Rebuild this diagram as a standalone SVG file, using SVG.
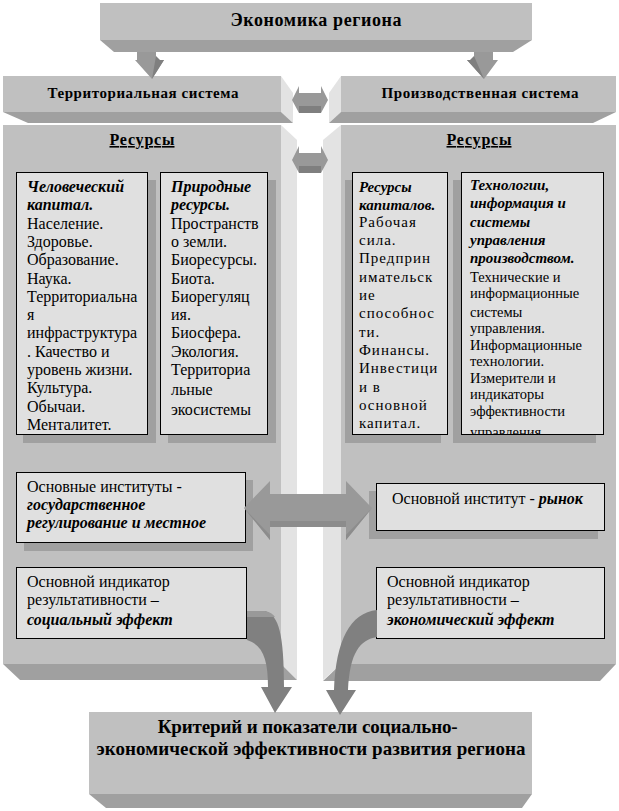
<svg xmlns="http://www.w3.org/2000/svg" width="619" height="811" viewBox="0 0 619 811">
<defs>
<style>
.front{fill:#c0c0c0}
.bevel{fill:#a0a0a0}
.side{fill:#e3e3e3}
.box{fill:#e0e0e0;stroke:#000;stroke-width:1}
.shadow{fill:#a0a0a0}
.arrow{fill:#999999}
.arrowdk{fill:#7f7f7f}
.curve{fill:#808080}
text{font-family:"Liberation Serif","Times New Roman",serif;fill:#000}
.h{font-weight:bold}
.bi{font-weight:bold;font-style:italic}
.t16{font-size:16px}
.t15{font-size:15px}
.sp{letter-spacing:1px}
</style>
<clipPath id="clip4"><rect x="461" y="172" width="143" height="262"/></clipPath>
</defs>
<rect x="0" y="0" width="619" height="811" fill="#ffffff"/>

<g id="top-box">
<polygon class="bevel" points="100,40 532,40 513,52 114,52"/>
<rect class="front" x="100" y="3" width="432" height="37"/>
<text class="h" x="316" y="26" font-size="18" text-anchor="middle" textLength="171">Экономика региона</text>
</g>

<g id="territorial-system">
<polygon class="side" points="281,76 293,93 293,123 281,112"/>
<polygon class="bevel" points="3,112 281,112 293,123 28,123"/>
<rect class="front" x="3" y="76" width="278" height="36"/>
<text class="h" x="143" y="98" font-size="15" text-anchor="middle" textLength="191">Территориальная система</text>
</g>

<g id="production-system">
<polygon class="side" points="341,76 329,93 329,123 341,112"/>
<polygon class="bevel" points="341,112 616,112 593,123 329,123"/>
<rect class="front" x="341" y="76" width="275" height="36"/>
<text class="h" x="480" y="98" font-size="15" text-anchor="middle" textLength="197">Производственная система</text>
</g>

<g id="left-panel">
<polygon class="side" points="281,125 297,140 297,680 281,664"/>
<polygon class="bevel" points="3,664 281,664 297,680 20,680"/>
<rect class="front" x="3" y="125" width="278" height="539"/>
<text class="h" x="142" y="145" font-size="16" text-anchor="middle" text-decoration="underline" textLength="65">Ресурсы</text>
</g>

<g id="right-panel">
<polygon class="side" points="341,125 323,140 323,680 341,664"/>
<polygon class="bevel" points="341,664 616,664 600,681 323,681"/>
<rect class="front" x="341" y="125" width="275" height="539"/>
<text class="h" x="479" y="145" font-size="16" text-anchor="middle" text-decoration="underline" textLength="65">Ресурсы</text>
</g>

<g id="human-capital">
<rect class="shadow" x="23" y="180" width="133" height="263"/>
<rect class="box" x="16.5" y="172.5" width="131" height="262"/>
<text class="t16">
<tspan class="bi" x="27" y="192">Человеческий</tspan>
<tspan class="bi" x="27" y="210.3">капитал.</tspan>
<tspan x="27" y="228.6">Население.</tspan>
<tspan x="27" y="246.9">Здоровье.</tspan>
<tspan x="27" y="265.2">Образование.</tspan>
<tspan x="27" y="283.5">Наука.</tspan>
<tspan x="27" y="301.8">Территориальна</tspan>
<tspan x="27" y="320.1">я</tspan>
<tspan x="27" y="338.4">инфраструктура</tspan>
<tspan x="27" y="356.7">. Качество и</tspan>
<tspan x="27" y="375">уровень жизни.</tspan>
<tspan x="27" y="393.3">Культура.</tspan>
<tspan x="27" y="411.6">Обычаи.</tspan>
<tspan x="27" y="429.9">Менталитет.</tspan>
</text>
</g>

<g id="natural-resources">
<rect class="shadow" x="168" y="180" width="108" height="263"/>
<rect class="box" x="160.5" y="172.5" width="107" height="262"/>
<text class="t16">
<tspan class="bi" x="171" y="192">Природные</tspan>
<tspan class="bi" x="171" y="210.3">ресурсы.</tspan>
<tspan x="171" y="228.6">Пространств</tspan>
<tspan x="171" y="246.9">о земли.</tspan>
<tspan x="171" y="265.2">Биоресурсы.</tspan>
<tspan x="171" y="283.5">Биота.</tspan>
<tspan x="171" y="301.8">Биорегуляц</tspan>
<tspan x="171" y="320.1">ия.</tspan>
<tspan x="171" y="338.4">Биосфера.</tspan>
<tspan x="171" y="356.7">Экология.</tspan>
<tspan x="171" y="375">Территориа</tspan>
<tspan x="171" y="395">льные</tspan>
<tspan x="171" y="415">экосистемы</tspan>
</text>
</g>

<g id="capital-resources">
<rect class="shadow" x="345" y="180" width="96" height="263"/>
<rect class="box" x="352.5" y="172.5" width="95" height="262"/>
<text class="t15">
<tspan class="bi" x="359" y="192">Ресурсы</tspan>
<tspan class="bi" x="359" y="210">капиталов.</tspan>
<tspan class="sp" x="359" y="227">Рабочая</tspan>
<tspan class="sp" x="359" y="245">сила.</tspan>
<tspan class="sp" x="359" y="263.3">Предприн</tspan>
<tspan class="sp" x="359" y="281.7">имательск</tspan>
<tspan class="sp" x="359" y="300">ие</tspan>
<tspan class="sp" x="359" y="318.3">способнос</tspan>
<tspan class="sp" x="359" y="336.7">ти.</tspan>
<tspan class="sp" x="359" y="355">Финансы.</tspan>
<tspan class="sp" x="359" y="373.3">Инвестици</tspan>
<tspan class="sp" x="359" y="391.7">и в</tspan>
<tspan class="sp" x="359" y="410">основной</tspan>
<tspan class="sp" x="359" y="428.3">капитал.</tspan>
</text>
</g>

<g id="technologies">
<rect class="shadow" x="453" y="180" width="143" height="263"/>
<rect class="box" x="461.5" y="172.5" width="142" height="262"/>
<g clip-path="url(#clip4)">
<text class="t15">
<tspan class="bi" x="470" y="190">Технологии,</tspan>
<tspan class="bi" x="470" y="208.3">информация и</tspan>
<tspan class="bi" x="470" y="226.7">системы</tspan>
<tspan class="bi" x="470" y="245">управления</tspan>
<tspan class="bi" x="470" y="263.3">производством.</tspan>
</text>
<text font-size="14.5">
<tspan x="470" y="281.7"> Технические и</tspan>
<tspan x="470" y="298.3">информационные</tspan>
<tspan x="470" y="316.7">системы</tspan>
<tspan x="470" y="333.3">управления.</tspan>
<tspan x="470" y="350">Информационные</tspan>
<tspan x="470" y="366">технологии.</tspan>
<tspan x="470" y="382.7">Измерители и</tspan>
<tspan x="470" y="399.3">индикаторы</tspan>
<tspan x="470" y="416">эффективности</tspan>
<tspan x="470" y="437">управления</tspan>
</text>
</g>
</g>

<g id="institutions-left">
<rect class="shadow" x="24" y="480" width="229" height="71"/>
<rect class="box" x="16.5" y="472.5" width="229" height="70"/>
<text class="t16">
<tspan x="27" y="492">Основные институты -</tspan>
<tspan class="bi" x="27" y="510">государственное</tspan>
<tspan class="bi" x="27" y="528">регулирование и местное</tspan>
</text>
</g>

<g id="institutions-right">
<rect class="shadow" x="369" y="491" width="229" height="48"/>
<rect class="box" x="376.5" y="483.5" width="228" height="47"/>
<text class="t16" x="392" y="504">Основной институт - <tspan class="bi">рынок</tspan></text>
</g>

<g id="indicator-left">
<rect class="box" x="16.5" y="567.5" width="230" height="71"/>
<text class="t16">
<tspan x="27" y="587">Основной индикатор</tspan>
<tspan x="27" y="605">результативности –</tspan>
<tspan class="bi" x="27" y="625">социальный эффект</tspan>
</text>
</g>

<g id="indicator-right">
<rect class="box" x="376.5" y="567.5" width="228" height="71"/>
<text class="t16">
<tspan x="387" y="587">Основной индикатор</tspan>
<tspan x="387" y="605">результативности –</tspan>
<tspan class="bi" x="387" y="625">экономический эффект</tspan>
</text>
</g>

<g id="bottom-box">
<polygon class="bevel" points="89,794 532,794 522,808 106,808"/>
<rect class="front" x="89" y="712" width="443" height="82"/>
<text class="h" font-size="19" text-anchor="middle">
<tspan x="310" y="733" textLength="300">Критерий и показатели социально-</tspan>
<tspan x="311" y="755" textLength="429">экономической эффективности развития региона</tspan>
</text>
</g>

<g id="connectors">
<polygon class="arrow" points="137,52 156,52 156,60 164,60 152,79 135,60 137,60"/>
<polygon class="arrowdk" points="156,56 160,60 164,60 152,79"/>
<polygon class="arrow" points="474,52 493,52 493,60 498,60 484,79 467,60 474,60"/>
<polygon class="arrowdk" points="474,56 470,60 467,60 484,79"/>

<polygon class="arrow" points="292,100 299,86 299,93 321,93 321,86 328,100 321,113 321,106 299,106 299,113"/>
<rect class="arrowdk" x="299" y="106" width="22" height="7"/>
<polygon class="arrow" points="292,160 299,146 299,153 321,153 321,146 328,160 321,173 321,166 299,166 299,173"/>
<rect class="arrowdk" x="299" y="166" width="22" height="7"/>

<polygon class="arrow" points="244,508 270,481 270,494 346,494 346,481 372,508 346,540 346,527 270,527 270,540"/>
<polygon fill="#8c8c8c" points="270,521 346,521 346,527 270,527"/>
<polygon fill="#8c8c8c" points="244,508 270,535 270,540"/>
<polygon fill="#8c8c8c" points="372,508 346,535 346,540"/>

<path class="curve" d="M247,611 L265,611 C279,615 284,635 284,687 L292,687 L275,713 L261,687 L268,687 C268,660 263,645 247,640 Z"/>
<path fill="#999999" d="M247,611 L265,611 C270,612 273,614 275,617 L256,617 L247,617 Z"/>
<path class="curve" d="M377,610 L377,637 C360,640 350,652 348,690 L356,690 L340,715 L326,690 L334,690 C336,640 350,613 377,610 Z"/>
</g>
</svg>
